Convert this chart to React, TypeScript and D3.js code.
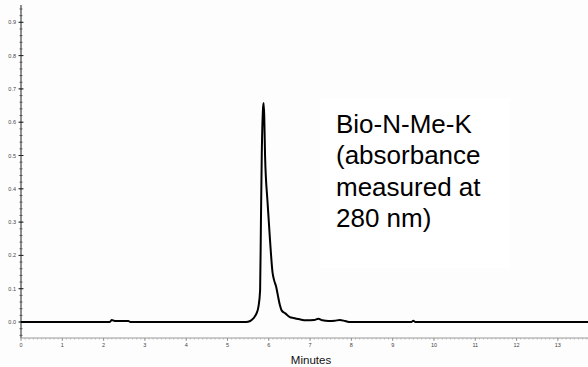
import React from "react";
import * as d3 from "d3";

// Chromatogram trace: retention time (minutes) vs absorbance
const times = [0, 2.15, 2.2, 2.25, 2.3, 2.6, 2.65, 5.45, 5.55, 5.62, 5.7, 5.75, 5.79, 5.81, 5.83, 5.86, 5.875, 5.89, 5.91, 5.97, 6.03, 6.09, 6.13, 6.18, 6.22, 6.27, 6.31, 6.4, 6.51, 6.6, 6.75, 6.9, 7.1, 7.2, 7.3, 7.45, 7.6, 7.72, 7.85, 7.97, 9.45, 9.5, 9.55, 13.75];
const absorbance = [0, 0, 0.006, 0.004, 0.003, 0.003, 0, 0, 0.003, 0.01, 0.025, 0.046, 0.095, 0.3, 0.5, 0.64, 0.658, 0.62, 0.5, 0.36, 0.246, 0.15, 0.125, 0.105, 0.08, 0.05, 0.035, 0.026, 0.015, 0.012, 0.008, 0.005, 0.006, 0.01, 0.005, 0.003, 0.004, 0.006, 0.003, 0, 0, 0.004, 0, 0];

const xTicks = [0, 1, 2, 3, 4, 5, 6, 7, 8, 9, 10, 11, 12, 13];
const yTicks = [0.0, 0.1, 0.2, 0.3, 0.4, 0.5, 0.6, 0.7, 0.8, 0.9];
const noteLines = ["Bio-N-Me-K", "(absorbance", "measured at", "280 nm)"];
const xTitle = "Minutes";

const W = 588;
const H = 367;

export default function App() {
  const x = d3.scaleLinear().domain([0, 13.73]).range([21, 588]);
  const y = d3.scaleLinear().domain([-0.048, 1]).range([338, -11]);

  const pts = times.map((t, i) => [t, absorbance[i]] as [number, number]);
  const line = d3
    .line<[number, number]>()
    .x((d) => x(d[0]))
    .y((d) => y(d[1]))
    .curve(d3.curveMonotoneX);

  const yMinor = d3.range(-0.04, 0.95, 0.02);
  const xMinor = d3.range(0, 13.75, 0.1);
  const axisY = y(-0.048);
  const font = "'Liberation Sans', Arial, sans-serif";

  return (
    <div style={{ position: "absolute", left: 0, top: 0, width: W, height: H }}>
      <svg width={W} height={H} style={{ display: "block", background: "#fdfdfd" }}>
        {/* annotation box */}
        <rect x={320} y={98} width={190} height={170} fill="#ffffff" />

        {/* y axis */}
        <line x1={21} x2={21} y1={5} y2={axisY} stroke="#222" strokeWidth={1} />
        {yMinor.map((v, i) => (
          <line key={"ym" + i} x1={19.5} x2={22.5} y1={y(v)} y2={y(v)} stroke="#444" strokeWidth={0.8} />
        ))}
        {yTicks.map((v) => (
          <g key={"y" + v}>
            <line x1={18.5} x2={23.5} y1={y(v)} y2={y(v)} stroke="#222" strokeWidth={1} />
            <text x={16} y={y(v) + 2} textAnchor="end" fontSize={5.5} fontFamily={font} fill="#444">
              {v.toFixed(1)}
            </text>
          </g>
        ))}

        {/* x axis */}
        <line x1={21} x2={588} y1={axisY} y2={axisY} stroke="#999" strokeWidth={1} />
        {xMinor.map((t, i) => (
          <line key={"xm" + i} x1={x(t)} x2={x(t)} y1={axisY} y2={axisY + 1.5} stroke="#aaa" strokeWidth={0.8} />
        ))}
        {xTicks.map((t) => (
          <g key={"x" + t}>
            <line x1={x(t)} x2={x(t)} y1={axisY} y2={axisY + 3} stroke="#888" strokeWidth={0.8} />
            <text x={x(t)} y={347} textAnchor="middle" fontSize={5.5} fontFamily={font} fill="#444">
              {t}
            </text>
          </g>
        ))}
        <text x={311} y={364} textAnchor="middle" fontSize={11.5} fontFamily={font} fill="#111">
          {xTitle}
        </text>

        {/* trace */}
        <path d={line(pts) ?? ""} fill="none" stroke="#000" strokeWidth={2} strokeLinejoin="round" />

        {/* annotation */}
        {noteLines.map((s, i) => (
          <text key={s} x={336} y={133 + i * 31.3} fontSize={26} fontFamily={font} fill="#000">
            {s}
          </text>
        ))}
      </svg>
    </div>
  );
}
